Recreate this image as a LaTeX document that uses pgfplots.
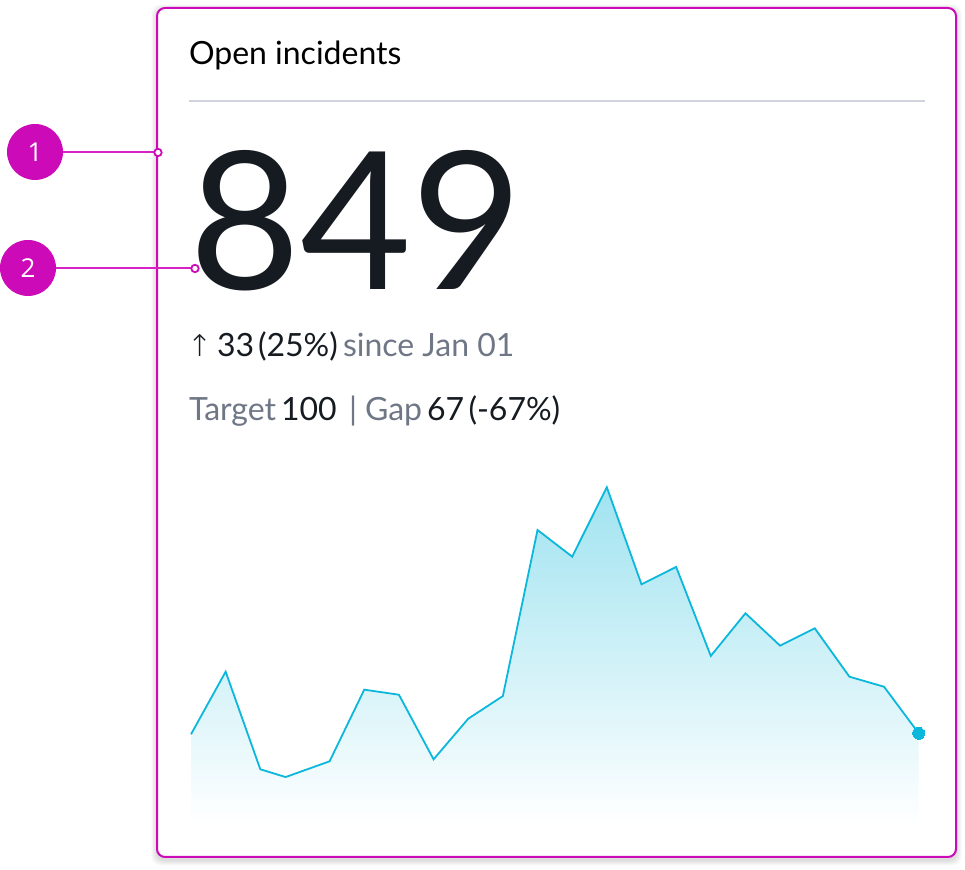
\documentclass[border=0pt]{standalone}
\usepackage{fontspec}
\setmainfont{Lato}
\newfontfamily\arrowf{DejaVu Sans ExtraLight}
\newfontfamily\numf{Open Sans}
\usepackage{pgfplots}
\pgfplotsset{compat=1.18}
\usepackage{pgfplotstable}
\definecolor{mag}{HTML}{CC0AB8}
\definecolor{magl}{HTML}{D822C6}
\definecolor{ink}{HTML}{161B22}
\definecolor{grey}{HTML}{6F7787}
\definecolor{rule}{HTML}{D1D4DC}
\definecolor{line}{HTML}{0CB7DC}
\definecolor{areatop}{HTML}{A0E3F0}
\pgfplotstableread{
x y
0 840
1 1419
2 516
2.73 444
4 590
5 1253
6 1206
7 608
8 984
9 1194
10 2731
11 2484
12 3126
13 2228
14 2389
15 1565
16 1960
17 1660
18 1821
19 1373
20 1280
21 849
}\series
\begin{document}
\begin{tikzpicture}
\path[use as bounding box] (0bp,0bp) rectangle (965bp,870bp);
\begin{scope}[x=1bp,y=-1bp,yshift=870bp]
\foreach \i in {7,6,5,4,3,2,1}{
  \fill[black,opacity=0.018,rounded corners=9bp] ({157-\i*0.8},{8+2-\i*0.8}) rectangle ({956+\i*0.8},{857+3+\i*0.8});
}
\fill[white,rounded corners=8bp] (157,8) rectangle (956,857);
\end{scope}
\begin{axis}[
  at={(191bp,40bp)}, anchor=south west,
  scale only axis, width=727.7bp, height=342.7bp,
  xmin=0, xmax=21, ymin=-46, ymax=3126,
  hide axis, clip=false]
\addplot[draw=none, top color=areatop, bottom color=white, forget plot] table[x=x,y=y] {\series} \closedcycle;
\addplot[line, line width=1.8bp, line join=miter, mark=none] table[x=x,y=y] {\series};
\addplot[only marks, mark=*, mark size=6bp, mark options={fill=line, draw=line, line width=0pt}] coordinates {(21,849)};
\end{axis}
\begin{scope}[x=1bp,y=-1bp,yshift=870bp]
\draw[mag,line width=2bp,rounded corners=8bp] (157,8) rectangle (956,857);
\draw[rule,line width=2bp] (189,101) -- (925,101);
\tikzset{t/.style={anchor=base west,inner sep=0,outer sep=0}}
\node[t,text=black] at (189,64.5) {\fontsize{32bp}{36bp}\selectfont Open incidents};
\node[t,text=ink] at (189,290) {\fontsize{192bp}{200bp}\selectfont 849};
\node[t,text=ink] at (187,357) {\arrowf\fontsize{30bp}{30bp}\selectfont ↑};
\node[t,text=ink] at (217,357) {\fontsize{32bp}{36bp}\selectfont 33};
\node[t,text=ink] at (258,357) {\fontsize{32bp}{36bp}\selectfont (25\%)};
\node[t,text=grey] at (343,357) {\fontsize{32bp}{36bp}\selectfont since Jan 01};
\node[t,text=grey] at (189,421) {\fontsize{32bp}{36bp}\selectfont Target};
\node[t,text=ink] at (281,421) {\fontsize{32bp}{36bp}\selectfont 100};
\node[t,text=grey] at (349,421) {\fontsize{32bp}{36bp}\selectfont |};
\node[t,text=grey] at (365,421) {\fontsize{32bp}{36bp}\selectfont Gap};
\node[t,text=ink] at (427,421) {\fontsize{32bp}{36bp}\selectfont 67};
\node[t,text=ink] at (468.5,421) {\fontsize{32bp}{36bp}\selectfont (-67\%)};
\draw[magl,line width=2bp] (63,152.5) -- (154,152.5);
\draw[magl,line width=2bp] (56,268.5) -- (191,268.5);
\draw[mag,line width=1.8bp,fill=white] (158,152.5) circle (3.7bp);
\draw[mag,line width=1.8bp,fill=white] (195,268.5) circle (3.7bp);
\fill[mag] (35,152) circle (28bp);
\fill[mag] (28,268) circle (28bp);
\node[text=white,inner sep=0] at (35,152) {\numf\fontsize{26bp}{30bp}\selectfont 1};
\node[text=white,inner sep=0] at (28,268) {\numf\fontsize{26bp}{30bp}\selectfont 2};
\end{scope}
\end{tikzpicture}
\end{document}
